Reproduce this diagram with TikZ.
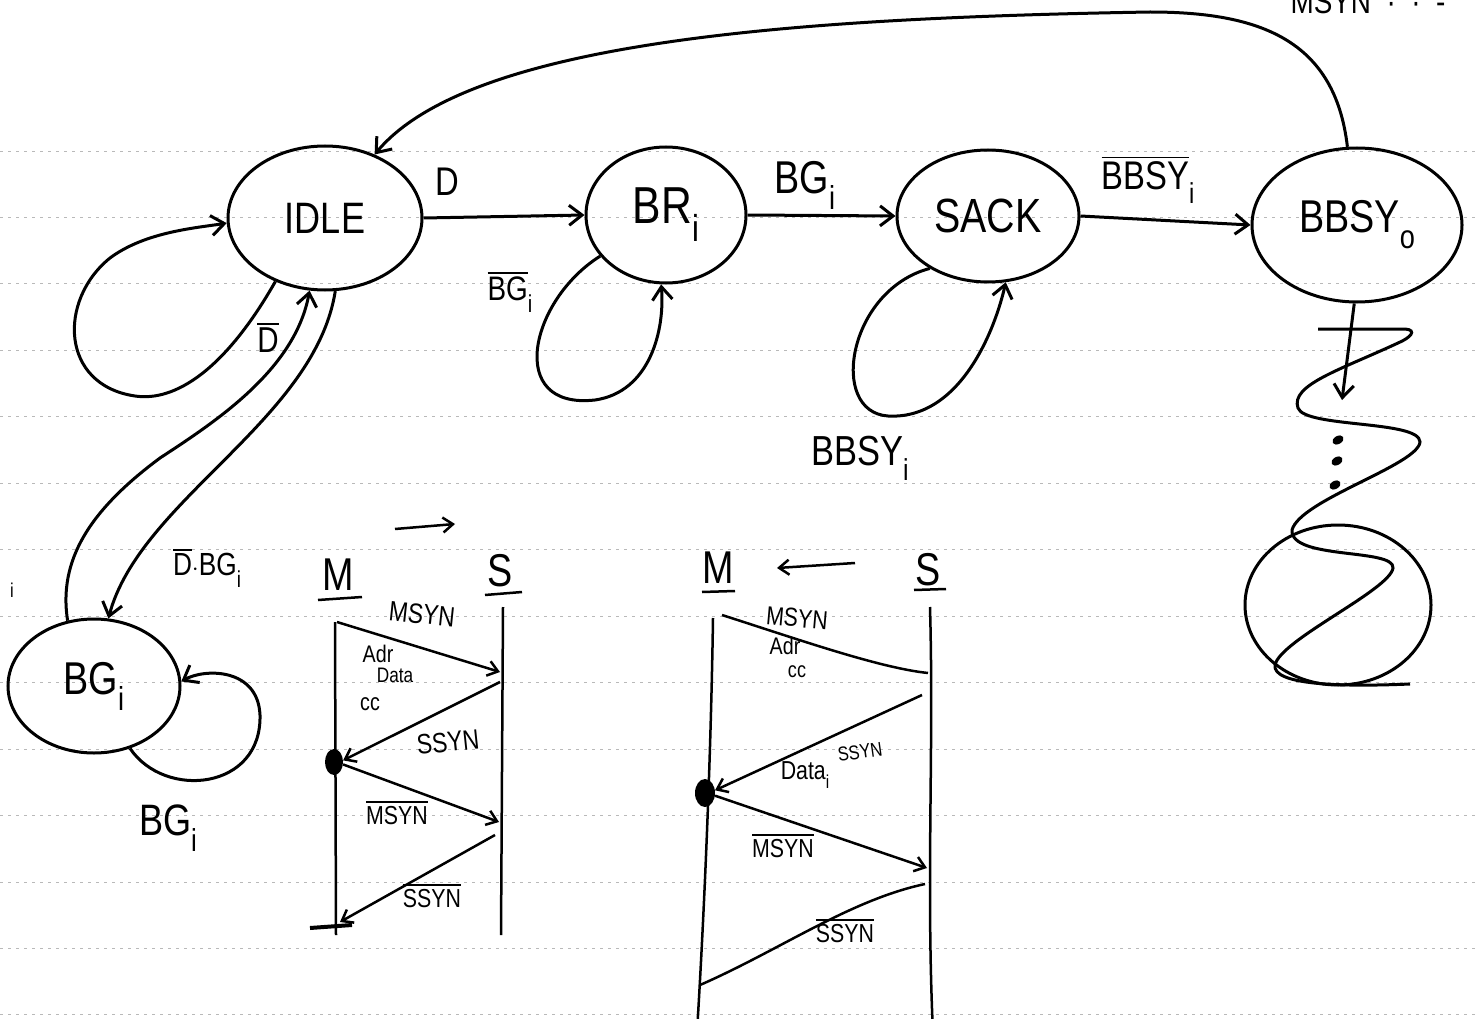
\documentclass[tikz,border=0pt]{standalone}
\usepackage{fontspec}
\setmainfont[FakeStretch=0.82]{Liberation Sans}
\usetikzlibrary{shapes.geometric,arrows.meta}
\newcommand{\ovl}[1]{\leavevmode\vbox{\hrule height 1.8pt\kern 3pt\hbox{#1}}}
\newcommand{\subi}[1]{\raisebox{-0.35em}{\scalebox{0.72}{#1}}}
\tikzset{
  state/.style={ellipse, draw, line width=3pt, inner sep=0pt},
  conn/.style={line width=3pt, -{Straight Barb[length=13pt,width=20pt]}},
  sconn/.style={line width=2.5pt, -{Straight Barb[length=10pt,width=15pt]}},
  plain/.style={line width=3pt},
  thinl/.style={line width=2.5pt},
  ruled/.style={gray!55, dash pattern=on 3pt off 5pt, line width=0.9pt},
  fs/.style={font=\fontsize{#1}{#1}\selectfont},
}
\begin{document}
\begin{tikzpicture}[x=1pt,y=-1pt]
\fill[white] (0,0) rectangle (1478,1019);
\useasboundingbox (0,0) rectangle (1478,1019);
\foreach \k in {0,...,13} \draw[ruled] (0,{151+66.45*\k}) -- (1478,{151+66.45*\k});

% states
\node[state, minimum width=194pt, minimum height=144pt, fs=44] (idle) at (325,218) {IDLE};
\node[state, minimum width=160pt, minimum height=136pt, fs=52] (br) at (666,215) {BR\subi{i}};
\node[state, minimum width=182pt, minimum height=132pt, fs=48] (sack) at (988,216) {SACK};
\node[state, minimum width=210pt, minimum height=154pt, fs=46] (bbsy) at (1357,225) {BBSY\subi{o}};
\node[state, minimum width=172pt, minimum height=134pt, fs=46] (bg) at (94,686) {BG\subi{i}};
\node[state, minimum width=186pt, minimum height=160pt] (term) at (1338,605) {};

% main transitions
\draw[conn] (idle.east) -- (br.west);
\node[fs=40] (lD) at (447,182) {D};
\draw[conn] (br.east) -- (sack.west);
\node[fs=46] (lBG) at (805,185) {BG\subi{i}};
\draw[conn] (sack.east) -- (bbsy.west);
\node[fs=40] (lBB) at (1148,180) {\ovl{BBSY}\subi{i}};

% return to IDLE
\draw[conn] (bbsy.97) .. controls (1335,40) and (1260,12) .. (1150,12)
            .. controls (800,18) and (470,40) .. (idle.52);
\node[fs=34, anchor=base west] (topr) at (1287,14) {MSYN \ \textperiodcentered\ \ \textperiodcentered\ \ -};

% IDLE self loop
\draw[conn] (idle.232) .. controls (225,370) and (175,402) .. (135,396)
            .. controls (60,385) and (58,300) .. (110,258)
            .. controls (145,232) and (195,228) .. (idle.183);
\node[fs=36] (lDb) at (268,338) {\ovl{D}};

% IDLE <-> BG
\draw[conn] (bg.112) .. controls (58,560) and (90,510) .. (160,458)
            .. controls (215,422) and (295,370) .. (idle.258);
\draw[conn] (idle.278) .. controls (315,420) and (140,500) .. (bg.78);
\node[fs=32] (lDBG) at (207,568) {\ovl{D}$\cdot$BG\subi{i}};
\node[fs=20] (frag) at (12,590) {i};

% BG self loop
\draw[conn] (bg.300) .. controls (165,800) and (262,790) .. (260,715)
            .. controls (258,668) and (205,668) .. (bg.3);
\node[fs=44] (lBG2) at (168,828) {BG\subi{i}};

% BR self loop
\draw[conn] (br.212) .. controls (530,300) and (505,410) .. (595,400)
            .. controls (650,392) and (665,330) .. (br.266);
\node[fs=34] (lBGb) at (510,292) {\ovl{BG}\subi{i}};

% SACK self loop
\draw[conn] (sack.222) .. controls (848,290) and (828,412) .. (888,416)
            .. controls (960,420) and (995,330) .. (sack.285);
\node[fs=42] (lBBi) at (860,458) {BBSY\subi{i}};

% BBSY downwards and wave
\coordinate (dn) at (1342,400);
\draw[conn] (bbsy.268) -- (dn);
\draw[plain] (1318,329) -- (1405,329) .. controls (1418,330) and (1410,338) .. (1398,343)
  .. controls (1340,370) and (1290,385) .. (1298,408)
  .. controls (1305,428) and (1420,420) .. (1420,442)
  .. controls (1418,465) and (1300,500) .. (1292,530)
  .. controls (1290,560) and (1395,548) .. (1393,568)
  .. controls (1390,590) and (1280,640) .. (1275,665)
  .. controls (1272,685) and (1340,687) .. (1410,684);
\fill[rotate around={30:(1338,440)}] (1338,440) ellipse [x radius=6pt, y radius=4pt];
\fill[rotate around={30:(1337,461)}] (1337,461) ellipse [x radius=6pt, y radius=4pt];
\fill[rotate around={30:(1335,485)}] (1335,485) ellipse [x radius=6pt, y radius=4pt];

% ---- timing diagram 1 ----
\coordinate (m1a) at (335,622); \coordinate (m1b) at (336,935);
\coordinate (s1a) at (503,607); \coordinate (s1b) at (501,935);
\draw[thinl] (m1a) -- (m1b);
\draw[thinl] (s1a) -- (s1b);
\node[fill, ellipse, minimum width=18pt, minimum height=26pt, inner sep=0pt] (dot1) at (334,762) {};
\coordinate (p1) at (337,622); \coordinate (q1) at (500,672);
\coordinate (q2) at (500,682); \coordinate (q3) at (499,822);
\coordinate (q4) at (495,835); \coordinate (m1e) at (340,922);
\draw[sconn] (p1) -- (q1);
\draw[sconn] (q2) -- (dot1.10);
\draw[sconn] (dot1.-15) -- (q3);
\draw[sconn] (q4) -- (m1e);
\draw[line width=4pt] (310,928) -- (352,925);
\node[fs=46] (M1) at (338,575) {M};
\draw[thinl] (318,600) -- (362,597);
\node[fs=46] (S1) at (500,571) {S};
\draw[thinl] (485,595) -- (522,592);
\coordinate (ta) at (395,529); \coordinate (tb) at (455,524);
\draw[sconn] (ta) -- (tb);
\node[fs=28, rotate=-6] (t1a) at (422,614) {MSYN};
\node[fs=24] (t1b) at (378,654) {Adr};
\node[fs=21] (t1c) at (395,675) {Data};
\node[fs=24] (t1d) at (370,704) {cc};
\node[fs=28, rotate=6] (t1e) at (448,742) {SSYN};
\node[fs=26] (t1f) at (397,813) {\ovl{MSYN}};
\node[fs=26] (t1g) at (432,896) {\ovl{SSYN}};

% ---- timing diagram 2 ----
\coordinate (m2a) at (713,618); \coordinate (m2b) at (697,1032);
\coordinate (s2a) at (930,607); \coordinate (s2b) at (933,1033);
\draw[thinl] (m2a) .. controls (711,750) and (705,900) .. (m2b);
\draw[thinl] (s2a) .. controls (934,750) and (926,880) .. (s2b);
\node[fill, ellipse, minimum width=20pt, minimum height=28pt, inner sep=0pt] (dot2) at (705,793) {};
\coordinate (u1) at (722,615); \coordinate (v1) at (928,673);
\coordinate (v2) at (922,695); \coordinate (v3) at (927,868);
\coordinate (v4) at (925,884); \coordinate (u4) at (700,985);
\draw[thinl] (u1) .. controls (800,640) and (880,668) .. (v1);
\draw[sconn] (v2) -- (dot2.15);
\draw[sconn] (dot2.-15) -- (v3);
\draw[thinl] (v4) .. controls (850,900) and (780,950) .. (u4);
\node[fs=46] (M2) at (718,568) {M};
\draw[thinl] (702,592) -- (735,591);
\node[fs=46] (S2) at (928,570) {S};
\draw[thinl] (914,590) -- (946,589);
\coordinate (la) at (855,563); \coordinate (lb) at (777,568);
\draw[sconn] (la) -- (lb);
\node[fs=26, rotate=-5] (t2a) at (797,618) {MSYN};
\node[fs=24] (t2b) at (785,646) {Adr};
\node[fs=22] (t2c) at (797,672) {cc};
\node[fs=26] (t2d) at (805,775) {Data\subi{i}};
\node[fs=20, rotate=8] (t2e) at (860,752) {SSYN};
\node[fs=26] (t2f) at (783,846) {\ovl{MSYN}};
\node[fs=26] (t2g) at (845,931) {\ovl{SSYN}};
\end{tikzpicture}
\end{document}
